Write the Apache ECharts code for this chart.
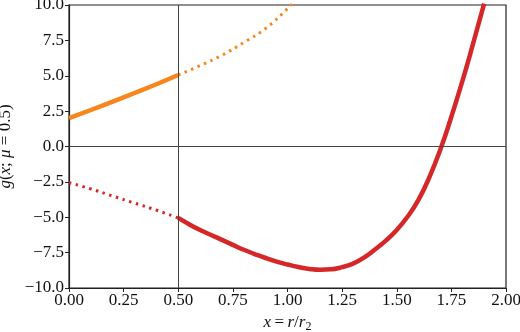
<!DOCTYPE html>
<html>
<head>
<meta charset="utf-8">
<script src="https://cdn.jsdelivr.net/npm/echarts@6/dist/echarts.min.js"></script>
<style>
  html, body { margin: 0; padding: 0; background: #fff; }
  #chart { width: 520px; height: 332px; }
</style>
</head>
<body>
<div id="chart"></div>
<script>
// 读图估值
const xTicks = [0, 0.25, 0.5, 0.75, 1.0, 1.25, 1.5, 1.75, 2.0]
const yTicks = [-10, -7.5, -5, -2.5, 0, 2.5, 5, 7.5, 10]

// 橙色：实线段 x<=0.5，点线段 x>=0.5
const orangeX = [0, 0.1, 0.2, 0.3, 0.4, 0.5, 0.6, 0.7, 0.8, 0.9, 1.0, 1.05]
const orangeY = [2.0, 2.58, 3.17, 3.78, 4.4, 5.05, 5.72, 6.45, 7.35, 8.35, 9.75, 10.6]

// 红色：点线段 x<=0.5，实线段 x>=0.5
const redX = [0, 0.1, 0.2, 0.3, 0.4, 0.5, 0.55, 0.6, 0.65, 0.7, 0.75, 0.8, 0.85, 0.9, 0.95,
  1.0, 1.05, 1.1, 1.15, 1.2, 1.25, 1.3, 1.35, 1.4, 1.45, 1.5, 1.55, 1.6, 1.65, 1.7, 1.75, 1.8, 1.85, 1.9]
const redY = [-2.55, -3.0, -3.5, -4.0, -4.5, -5.05, -5.5, -5.9, -6.25, -6.6, -6.95, -7.3, -7.6, -7.88, -8.13,
  -8.34, -8.52, -8.65, -8.71, -8.68, -8.52, -8.28, -7.85, -7.28, -6.65, -5.9, -4.95, -3.75, -2.15, -0.2, 2.1, 4.6, 7.3, 10.1]

const splitX = 0.5

const pairs = (xs, ys, keep) => xs.map((x, i) => [x, ys[i]]).filter(p => keep(p[0]))

const chart = echarts.init(document.getElementById('chart'))
const font = 'Liberation Serif'
const dotted = [2.5, 4.5]

const fmtY = v => (v < 0 ? '\u2212' + Math.abs(v).toFixed(1) : v.toFixed(1))

chart.setOption({
  animation: false,
  grid: {
    left: 69, right: 14, top: 5, bottom: 44,
    outerBoundsMode: 'none',
    show: true, borderColor: '#222', borderWidth: 1.2, backgroundColor: 'transparent'
  },
  xAxis: {
    type: 'value',
    min: 0, max: 2, interval: 0.25,
    name: '{i|x}\u2009=\u2009{i|r}/{i|r}{s|2}',
    nameLocation: 'middle',
    nameGap: 24,
    nameTextStyle: {
      fontFamily: font, fontSize: 17, color: '#111',
      rich: {
        i: { fontFamily: font, fontStyle: 'italic', fontSize: 17, color: '#111' },
        s: { fontFamily: font, fontSize: 12, color: '#111', padding: [8, 0, 0, 0] }
      }
    },
    axisLine: { show: true, onZero: false, lineStyle: { color: '#222', width: 1.2 } },
    axisTick: { show: true, length: 4, lineStyle: { color: '#222' } },
    axisLabel: { fontFamily: font, fontSize: 17, color: '#111', margin: 4, formatter: v => v.toFixed(2) },
    splitLine: { show: false }
  },
  yAxis: {
    type: 'value',
    min: -10, max: 10, interval: 2.5,
    name: '{i|g}({i|x}; {i|\u03bc} = 0.5)',
    nameLocation: 'middle',
    nameRotate: 90,
    nameGap: 44,
    nameTextStyle: {
      fontFamily: font, fontSize: 17, color: '#111',
      rich: {
        i: { fontFamily: font, fontStyle: 'italic', fontSize: 17, color: '#111' }
      }
    },
    axisLine: { show: true, onZero: false, lineStyle: { color: '#222', width: 1.2 } },
    axisTick: { show: true, length: 4, lineStyle: { color: '#222' } },
    axisLabel: { fontFamily: font, fontSize: 17, color: '#111', margin: 5, formatter: fmtY },
    splitLine: { show: false }
  },
  series: [
    {
      name: 'orange-solid', type: 'line', smooth: true, showSymbol: false, z: 3,
      data: pairs(orangeX, orangeY, x => x <= splitX),
      lineStyle: { color: '#f7861c', width: 4.5 },
      // 参考线 x=0.5 与 y=0
      markLine: {
        silent: true, symbol: 'none', label: { show: false },
        lineStyle: { color: '#444', width: 1, type: 'solid' },
        data: [{ xAxis: splitX }, { yAxis: 0 }]
      }
    },
    {
      name: 'orange-dotted', type: 'line', smooth: true, showSymbol: false, z: 3,
      data: pairs(orangeX, orangeY, x => x >= splitX),
      lineStyle: { color: '#f7861c', width: 3, type: dotted }
    },
    {
      name: 'red-dotted', type: 'line', smooth: true, showSymbol: false, z: 3,
      data: pairs(redX, redY, x => x <= splitX),
      lineStyle: { color: '#d62728', width: 3, type: dotted }
    },
    {
      name: 'red-solid', type: 'line', smooth: true, showSymbol: false, z: 3,
      data: pairs(redX, redY, x => x >= splitX),
      lineStyle: { color: '#d62728', width: 4.5 }
    }
  ]
})
</script>
</body>
</html>
